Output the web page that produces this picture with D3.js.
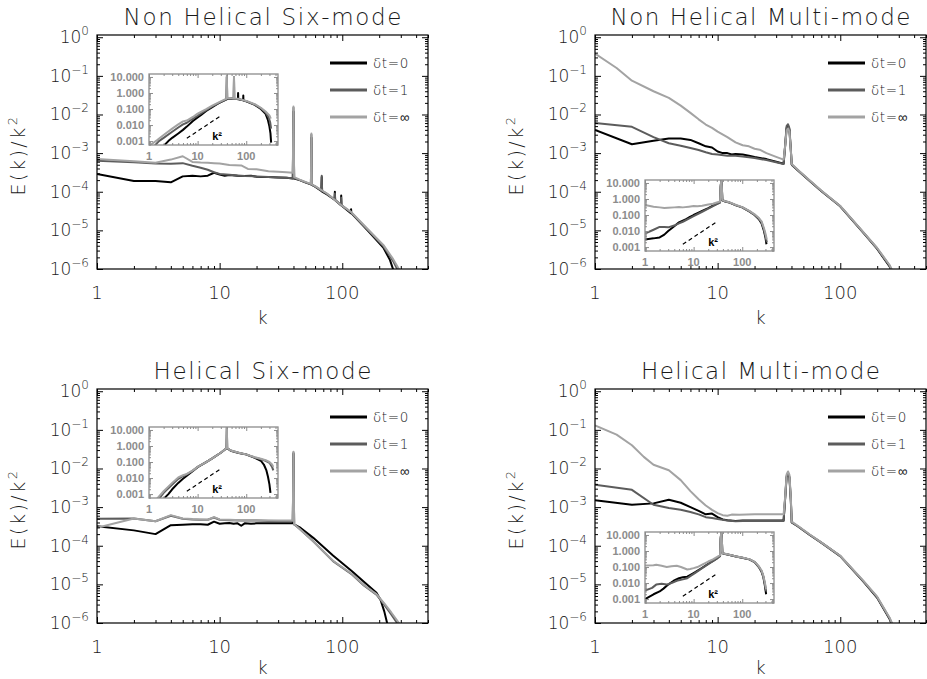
<!DOCTYPE html>
<html><head><meta charset="utf-8">
<script src="https://cdn.jsdelivr.net/npm/d3@7"></script>
<style>body{margin:0;background:#fff}svg{display:block}</style>
</head><body>
<svg id="chart" width="927" height="679"></svg>
<script>
// ---------------- DATA ----------------
const panelTitles = ["Non Helical Six-mode", "Non Helical Multi-mode", "Helical Six-mode", "Helical Multi-mode"];
const seriesLabels = ["δt=0", "δt=1", "δt=∞"];
const xTickValues = [1, 10, 100];
const xTickLabels = ["1", "10", "100"];
const yTickExponents = [0, -1, -2, -3, -4, -5, -6];
const insetYTickValues = [10, 1, 0.1, 0.01, 0.001];
const insetYTickLabels = ["10.000", "1.000", "0.100", "0.010", "0.001"];
const insetXTickValues = [1, 10, 100];
const insetXTickLabels = ["1", "10", "100"];
const refLineK = [6, 28];
const refLineE = [0.0015, 0.033];
const refLabel = "k²";

// Non Helical Six-mode: E(k)/k^2
const nhSix_dt0 = [[1,2.9e-4],[2,1.9e-4],[3,1.9e-4],[4,1.75e-4],[5,2.5e-4],[6,2.6e-4],[7,2.5e-4],[8,2.6e-4],[9,3.1e-4],[10,2.8e-4],[11,2.6e-4],[12,2.7e-4],[14,2.6e-4],[16,2.55e-4],[18,2.6e-4],[20,2.45e-4],[25,2.4e-4],[30,2.35e-4],[35,2.3e-4],[39.5,2.2e-4],[40,1.2e-2],[40.5,2.2e-4],[45,2e-4],[50,1.75e-4],[55.5,1.55e-4],[56,2.5e-3],[56.5,1.5e-4],[60,1.35e-4],[67.5,1.05e-4],[68,2.4e-4],[68.5,1.0e-4],[75,8.5e-5],[86.5,6.2e-5],[87,1e-4],[87.5,6e-5],[97.5,4.5e-5],[98,8e-5],[98.5,4.4e-5],[117.5,2.8e-5],[118,3.5e-5],[118.5,2.8e-5],[158,1.06e-5],[216,3.6e-6],[245,1.7e-6],[262,9e-7],[280,4e-7]];
const nhSix_dt1 = [[1,6.3e-4],[2,5.8e-4],[3,5.4e-4],[4,5.3e-4],[5,5.5e-4],[6,4.7e-4],[7,4.2e-4],[8,3.7e-4],[9,3.2e-4],[10,2.9e-4],[12,2.75e-4],[14,2.65e-4],[16,2.55e-4],[20,2.5e-4],[25,2.4e-4],[30,2.35e-4],[35,2.3e-4],[39.5,2.25e-4],[40,1.5e-2],[40.5,2.25e-4],[45,2e-4],[50,1.75e-4],[55.5,1.55e-4],[56,3e-3],[56.5,1.5e-4],[60,1.38e-4],[67.5,1.08e-4],[68,2.6e-4],[68.5,1.05e-4],[75,8.8e-5],[86.5,6.3e-5],[87,9e-5],[87.5,6.2e-5],[97.5,4.6e-5],[98,7e-5],[98.5,4.5e-5],[118,2.9e-5],[158,1.1e-5],[216,3.9e-6],[260,1.6e-6],[285,9e-7],[305,5e-7]];
const nhSix_dtInf = [[1,7e-4],[2,6.2e-4],[3,5.6e-4],[4,6.8e-4],[5,8.3e-4],[6,5.9e-4],[7,5.7e-4],[8,5.6e-4],[9,5.5e-4],[10,5.4e-4],[12,4.9e-4],[15,4.8e-4],[17,3.9e-4],[20,3.8e-4],[25,3.4e-4],[30,3.3e-4],[35,3.2e-4],[39.5,3.1e-4],[40,1.6e-2],[40.5,2.4e-4],[45,2.05e-4],[50,1.8e-4],[55.5,1.6e-4],[56,3.2e-3],[56.5,1.55e-4],[60,1.4e-4],[75,9e-5],[100,4.3e-5],[118,3e-5],[158,1.15e-5],[216,4.2e-6],[260,1.8e-6],[295,9e-7],[315,5e-7]];

// Non Helical Multi-mode
const nhMulti_dt0 = [[1,4e-3],[2,1.7e-3],[3,2.1e-3],[4,2.4e-3],[5,2.4e-3],[6,2.2e-3],[7,1.8e-3],[8,1.5e-3],[9,1.4e-3],[10,1.1e-3],[11,1.0e-3],[12,1.0e-3],[13,9.2e-4],[14,9.5e-4],[16,9.2e-4],[18,8.6e-4],[20,8e-4],[25,7e-4],[30,6e-4],[34.5,5.3e-4],[35.5,1.5e-3],[36.5,4.5e-3],[37.5,5.2e-3],[38.5,4e-3],[39.5,1.2e-3],[40.2,5e-4],[45,3.6e-4],[56.5,1.9e-4],[70,1.05e-4],[100,4.2e-5],[154,8.7e-6],[200,3.3e-6],[253,1.15e-6],[290,4e-7]];
const nhMulti_dt1 = [[1,6e-3],[2,4.8e-3],[3,2.6e-3],[4,1.8e-3],[5,1.55e-3],[6,1.35e-3],[7,1.2e-3],[8,1.05e-3],[9,9.5e-4],[10,9.2e-4],[12,8.6e-4],[14,8.5e-4],[16,8.2e-4],[18,7.8e-4],[20,7.5e-4],[25,6.6e-4],[30,5.8e-4],[34.5,5.2e-4],[35.5,1.6e-3],[36.5,5e-3],[37.5,5.6e-3],[38.5,4.4e-3],[39.5,1.3e-3],[40.2,5e-4],[45,3.6e-4],[56.5,1.9e-4],[70,1.05e-4],[100,4.2e-5],[154,8.8e-6],[200,3.4e-6],[253,1.2e-6],[295,4e-7]];
const nhMulti_dtInf = [[1,0.38],[1.5,0.16],[2,0.075],[3,0.04],[4,0.027],[5,0.017],[6,0.011],[7,0.0075],[8,0.0055],[9,0.0045],[10,0.0036],[12,0.0026],[14,0.0019],[16,0.0016],[18,0.0015],[20,0.0013],[22,0.00123],[25,0.001],[30,8e-4],[34.5,6.8e-4],[35.5,1.5e-3],[36.5,3.8e-3],[37.5,4.4e-3],[38.5,3.6e-3],[39.5,1.2e-3],[40.2,5.2e-4],[45,3.7e-4],[56.5,1.95e-4],[70,1.08e-4],[100,4.3e-5],[154,9e-6],[200,3.5e-6],[253,1.25e-6],[300,4e-7]];

// Helical Six-mode
const hSix_dt0 = [[1,3.2e-4],[2,2.5e-4],[3,2e-4],[4,3.4e-4],[5,3.5e-4],[6,3.6e-4],[7,3.6e-4],[8,3.5e-4],[9,4.2e-4],[10,3.7e-4],[11,3.8e-4],[12,3.9e-4],[13,3.7e-4],[14,3.8e-4],[15,3.3e-4],[16,3.8e-4],[18,3.7e-4],[20,3.8e-4],[25,3.8e-4],[30,3.8e-4],[35,3.8e-4],[39.5,3.8e-4],[40,2.4e-2],[40.5,3.6e-4],[45,3.0e-4],[58,1.6e-4],[84,5.6e-5],[120,2.2e-5],[150,1.17e-5],[190,6.1e-6],[205,4e-6],[220,2e-6],[232,1e-6],[245,4e-7]];
const hSix_dt1 = [[1,5e-4],[2,5.1e-4],[3,4.3e-4],[4,6e-4],[5,5e-4],[6,4.8e-4],[7,4.7e-4],[8,4.7e-4],[9,5.4e-4],[10,4.7e-4],[12,4.6e-4],[15,4.5e-4],[20,4.5e-4],[25,4.4e-4],[30,4.4e-4],[35,4.4e-4],[39.5,4.3e-4],[40,2.6e-2],[40.5,3.6e-4],[45,2.7e-4],[58,1.3e-4],[84,4e-5],[120,1.8e-5],[150,9.4e-6],[190,5.4e-6],[220,3e-6],[250,1.7e-6],[280,1e-6],[300,6e-7]];
const hSix_dtInf = [[1,2.9e-4],[2,5.1e-4],[3,4.3e-4],[4,6.2e-4],[5,5.1e-4],[6,4.9e-4],[7,4.8e-4],[8,4.7e-4],[9,5.5e-4],[10,4.8e-4],[12,4.7e-4],[15,4.6e-4],[20,4.6e-4],[30,4.5e-4],[39.5,4.5e-4],[40,2.7e-2],[40.5,3.6e-4],[45,2.7e-4],[58,1.3e-4],[84,4.1e-5],[120,1.85e-5],[150,9.6e-6],[190,5.6e-6],[220,3.2e-6],[250,1.9e-6],[290,1e-6],[310,6e-7]];

// Helical Multi-mode
const hMulti_dt0 = [[1,1.5e-3],[2,1.15e-3],[3,1.25e-3],[4,1.55e-3],[5,1.3e-3],[6,1.0e-3],[7,8e-4],[8,6.5e-4],[9,6.8e-4],[10,5.5e-4],[11,4.8e-4],[12,4.6e-4],[14,4.4e-4],[16,4.5e-4],[20,4.5e-4],[25,4.5e-4],[30,4.5e-4],[34.5,4.5e-4],[35.5,1.6e-3],[36.5,6e-3],[37.5,7.2e-3],[38.5,5.8e-3],[39.5,1.5e-3],[40.2,4e-4],[45,3.2e-4],[56.5,1.9e-4],[70,1.2e-4],[100,5.4e-5],[154,1.2e-5],[200,4.5e-6],[253,1.25e-6],[290,4e-7]];
const hMulti_dt1 = [[1,3.8e-3],[2,2.8e-3],[3,1.15e-3],[4,9.5e-4],[5,8.5e-4],[6,7.5e-4],[7,6.5e-4],[8,5.5e-4],[9,5.2e-4],[10,4.9e-4],[12,4.5e-4],[14,4.3e-4],[16,4.4e-4],[20,4.4e-4],[25,4.4e-4],[30,4.4e-4],[34.5,4.4e-4],[35.5,1.7e-3],[36.5,6.4e-3],[37.5,7.6e-3],[38.5,6.2e-3],[39.5,1.6e-3],[40.2,4e-4],[45,3.2e-4],[56.5,1.9e-4],[70,1.2e-4],[100,5.4e-5],[154,1.2e-5],[200,4.6e-6],[253,1.3e-6],[295,4e-7]];
const hMulti_dtInf = [[1,0.13],[1.5,0.075],[2,0.04],[2.5,0.02],[3,0.0125],[4,0.009],[5,0.005],[6,0.0026],[7,0.0016],[8,0.0011],[9,8.5e-4],[10,7e-4],[11,6.2e-4],[12,6e-4],[13,6.4e-4],[15,6.3e-4],[20,6.5e-4],[25,6.5e-4],[30,6.5e-4],[34.5,6.5e-4],[35.5,1.8e-3],[36.5,7e-3],[37.5,8.4e-3],[38.5,6.8e-3],[39.5,1.8e-3],[40.2,4.2e-4],[45,3.3e-4],[56.5,1.95e-4],[70,1.22e-4],[100,5.5e-5],[154,1.25e-5],[200,4.8e-6],[253,1.35e-6],[300,4e-7]];

// Inset spectra E(k)
const nhSixInset_dt0 = [[2,5e-4],[2.5,1e-3],[3,1.6e-3],[4,3e-3],[5,5e-3],[6,8e-3],[8,0.018],[10,0.03],[12,0.045],[15,0.075],[20,0.13],[25,0.2],[30,0.27],[35,0.34],[39.5,0.4],[40,10],[40.5,0.42],[45,0.45],[55.5,0.43],[56,8],[56.5,0.43],[67.5,0.42],[68,1.0],[68.5,0.4],[86.5,0.35],[87,0.7],[87.5,0.34],[100,0.3],[150,0.18],[200,0.1],[250,0.05],[280,0.02],[300,0.008],[315,0.003],[325,8e-4]];
const nhSixInset_dt1 = [[1.3,5e-4],[1.6,1e-3],[2,1.6e-3],[3,3.8e-3],[4,7e-3],[5,0.011],[6,0.014],[8,0.025],[10,0.038],[15,0.085],[20,0.145],[30,0.28],[39.5,0.42],[40,12],[40.5,0.45],[45,0.47],[55.5,0.44],[56,10],[56.5,0.44],[70,0.42],[100,0.31],[150,0.19],[200,0.11],[250,0.06],[290,0.03],[310,0.015],[325,0.006]];
const nhSixInset_dtInf = [[1,5e-4],[1.5,1.2e-3],[2,2.4e-3],[3,6e-3],[4,0.011],[5,0.017],[6,0.019],[8,0.032],[10,0.052],[15,0.1],[20,0.165],[30,0.3],[39.5,0.45],[40,12],[40.5,0.47],[45,0.48],[55.5,0.45],[56,10],[56.5,0.45],[70,0.43],[100,0.32],[150,0.2],[200,0.12],[250,0.07],[300,0.04],[320,0.025]];

const nhMultiInset_dt0 = [[1,0.003],[1.5,0.0035],[2,0.004],[2.5,0.006],[3,0.01],[4,0.02],[5,0.035],[6,0.045],[7,0.055],[8,0.07],[10,0.1],[12,0.13],[15,0.18],[20,0.27],[25,0.38],[30,0.5],[35,0.62],[36,6],[37,14],[38,6],[39,0.85],[40.2,0.8],[45,0.7],[55,0.6],[75,0.4],[100,0.3],[140,0.17],[180,0.1],[220,0.055],[250,0.03],[280,0.01],[300,0.004],[315,0.0015]];
const nhMultiInset_dt1 = [[1,0.007],[1.5,0.012],[2,0.018],[2.5,0.018],[3,0.017],[4,0.022],[5,0.03],[6,0.038],[8,0.06],[10,0.085],[15,0.16],[20,0.25],[30,0.48],[35,0.6],[36,6],[37,14],[38,6],[39,0.85],[40.2,0.8],[45,0.7],[55,0.6],[75,0.4],[100,0.3],[140,0.17],[180,0.1],[220,0.06],[250,0.035],[280,0.012],[300,0.005],[320,0.002]];
const nhMultiInset_dtInf = [[1,0.42],[1.5,0.33],[2,0.3],[2.5,0.27],[3,0.28],[4,0.3],[5,0.32],[6,0.3],[8,0.33],[10,0.36],[12,0.35],[15,0.38],[20,0.45],[25,0.5],[30,0.6],[35,0.7],[36,6],[37,14],[38,6],[39,0.9],[40.2,0.82],[45,0.72],[55,0.62],[75,0.42],[100,0.31],[140,0.18],[180,0.11],[220,0.065],[250,0.04],[280,0.015],[300,0.007],[320,0.003]];

const hSixInset_dt0 = [[2,5e-4],[2.5,1e-3],[3,2e-3],[4,5e-3],[5,0.009],[6,0.014],[8,0.028],[10,0.048],[15,0.1],[20,0.17],[30,0.38],[39.5,0.72],[40,14],[40.5,0.72],[45,0.58],[50,0.48],[70,0.37],[100,0.3],[150,0.18],[200,0.12],[230,0.07],[260,0.03],[280,0.012],[300,0.004],[315,0.0012]];
const hSixInset_dt1 = [[1.6,5e-4],[2,1.2e-3],[3,4e-3],[4,0.009],[5,0.013],[6,0.017],[8,0.029],[10,0.049],[15,0.1],[20,0.17],[30,0.38],[39.5,0.74],[40,15],[40.5,0.74],[45,0.6],[50,0.5],[70,0.38],[100,0.29],[150,0.19],[200,0.15],[250,0.12],[300,0.09],[340,0.05],[360,0.03]];
const hSixInset_dtInf = [[1.45,5e-4],[2,1.5e-3],[3,5e-3],[4,0.011],[5,0.015],[6,0.018],[8,0.03],[10,0.05],[15,0.1],[20,0.17],[30,0.38],[39.5,0.75],[40,15],[40.5,0.75],[45,0.6],[50,0.5],[70,0.38],[100,0.3],[150,0.2],[200,0.16],[250,0.13],[300,0.1],[340,0.07],[360,0.05]];

const hMultiInset_dt0 = [[1,0.001],[1.5,0.002],[2,0.003],[2.4,0.0045],[3,0.008],[3.9,0.014],[5,0.02],[6,0.023],[7.4,0.025],[9,0.035],[11,0.05],[15,0.09],[20,0.16],[25,0.24],[30,0.35],[35,0.5],[36,6],[37,14],[38,6],[39,0.8],[40.2,0.7],[50,0.6],[75,0.45],[100,0.38],[140,0.3],[180,0.2],[220,0.1],[250,0.05],[270,0.025],[290,0.008],[310,0.002]];
const hMultiInset_dt1 = [[1,0.0034],[1.4,0.005],[1.7,0.008],[2.2,0.009],[2.8,0.008],[3.5,0.01],[4.5,0.014],[6,0.017],[7.4,0.02],[9,0.03],[11,0.045],[15,0.085],[20,0.15],[30,0.33],[35,0.48],[36,6],[37,14],[38,6],[39,0.8],[40.2,0.7],[50,0.6],[75,0.45],[100,0.38],[140,0.3],[180,0.2],[220,0.1],[250,0.055],[270,0.028],[290,0.01],[310,0.003]];
const hMultiInset_dtInf = [[1,0.125],[1.5,0.13],[1.7,0.14],[2.2,0.12],[2.8,0.1],[3.5,0.11],[4.5,0.12],[5.5,0.1],[7.4,0.07],[8.5,0.075],[10,0.085],[12,0.1],[15,0.14],[20,0.22],[25,0.3],[30,0.42],[35,0.55],[36,6],[37,14],[38,6],[39,0.8],[40.2,0.72],[50,0.62],[75,0.46],[100,0.39],[140,0.31],[180,0.21],[220,0.11],[250,0.06],[270,0.03],[290,0.012],[310,0.004]];

// ---------------- LAYOUT / STYLE ----------------
const colors = ["#000000", "#5c5c5c", "#a3a3a3"];
const insetGray = "#8c8c8c";
const FONT = "'DejaVu Sans', sans-serif";
const TXT = "#1a1a1a";
const PW = 331, PH = 234;
const panels = [
  {left: 97,  top: 35,  kOff: 55, title: panelTitles[0], titleLen: 278, series: [nhSix_dt0, nhSix_dt1, nhSix_dtInf],       inset: {dx: 52, dy: 39,  series: [nhSixInset_dt0, nhSixInset_dt1, nhSixInset_dtInf]}},
  {left: 595, top: 35,  kOff: 55, title: panelTitles[1], titleLen: 300, series: [nhMulti_dt0, nhMulti_dt1, nhMulti_dtInf], inset: {dx: 50, dy: 145, series: [nhMultiInset_dt0, nhMultiInset_dt1, nhMultiInset_dtInf]}},
  {left: 97,  top: 389, kOff: 51, title: panelTitles[2], titleLen: 218, series: [hSix_dt0, hSix_dt1, hSix_dtInf],          inset: {dx: 52, dy: 38,  series: [hSixInset_dt0, hSixInset_dt1, hSixInset_dtInf]}},
  {left: 595, top: 389, kOff: 51, title: panelTitles[3], titleLen: 239, series: [hMulti_dt0, hMulti_dt1, hMulti_dtInf],    inset: {dx: 50, dy: 143, series: [hMultiInset_dt0, hMultiInset_dt1, hMultiInset_dtInf]}}
];
const IW = 129, IH = 71;

function minorLogTicks(lo, hi) {
  const out = [];
  for (let e = Math.floor(Math.log10(lo)) - 1; e <= Math.ceil(Math.log10(hi)); e++) {
    for (let m = 2; m <= 9; m++) { const v = m * Math.pow(10, e); if (v >= lo * 0.9999 && v <= hi * 1.0001) out.push(v); }
  }
  return out;
}

const svg = d3.select("#chart");
svg.append("rect").attr("width", 927).attr("height", 679).attr("fill", "#fff");

function drawTicks(g, scaleX, scaleY, x0, y0, w, h, xMaj, xMin, yMaj, yMin, majLen, minLen, color) {
  const mk = (axisFn, scale, vals, len, tx, ty) => {
    const a = g.append("g").attr("transform", `translate(${tx},${ty})`)
      .call(axisFn(scale).tickValues(vals).tickSizeInner(-len).tickSizeOuter(0).tickFormat(() => ""));
    a.select(".domain").remove();
    a.selectAll("line").attr("stroke", color).attr("stroke-width", 1);
    a.selectAll("text").remove();
  };
  mk(d3.axisBottom, scaleX, xMaj, majLen, 0, y0 + h);
  mk(d3.axisBottom, scaleX, xMin, minLen, 0, y0 + h);
  mk(d3.axisTop, scaleX, xMaj, majLen, 0, y0);
  mk(d3.axisTop, scaleX, xMin, minLen, 0, y0);
  mk(d3.axisLeft, scaleY, yMaj, majLen, x0, 0);
  mk(d3.axisLeft, scaleY, yMin, minLen, x0, 0);
  mk(d3.axisRight, scaleY, yMaj, majLen, x0 + w, 0);
  mk(d3.axisRight, scaleY, yMin, minLen, x0 + w, 0);
}

panels.forEach((p, pi) => {
  const g = svg.append("g");
  const x = d3.scaleLog().domain([1, 500]).range([p.left, p.left + PW]);
  const y = d3.scaleLog().domain([1e-6, Math.pow(10, 0.058)]).range([p.top + PH, p.top]);

  const clipId = "clip" + pi;
  svg.append("clipPath").attr("id", clipId).append("rect")
    .attr("x", p.left).attr("y", p.top).attr("width", PW).attr("height", PH);

  // curves
  const line = d3.line().x(d => x(d[0])).y(d => y(d[1]));
  const cg = g.append("g").attr("clip-path", `url(#${clipId})`);
  p.series.forEach((s, si) => {
    cg.append("path").datum(s).attr("d", line).attr("fill", "none")
      .attr("stroke", colors[si]).attr("stroke-width", 2).attr("stroke-linejoin", "round");
  });

  // box + ticks
  const yMajVals = yTickExponents.map(e => Math.pow(10, e));
  drawTicks(g, x, y, p.left, p.top, PW, PH, xTickValues, minorLogTicks(1, 500), yMajVals,
    minorLogTicks(1e-6, Math.pow(10, 0.058)), 6, 3, "#000");
  g.append("rect").attr("x", p.left).attr("y", p.top).attr("width", PW).attr("height", PH)
    .attr("fill", "none").attr("stroke", "#000").attr("stroke-width", 1.2);

  // y tick labels
  yTickExponents.forEach(e => {
    const t = g.append("text").attr("x", p.left - 8).attr("y", y(Math.pow(10, e)) + 6)
      .attr("text-anchor", "end").attr("font-family", FONT).attr("font-weight", 200)
      .attr("font-size", 17).attr("fill", TXT);
    t.append("tspan").text("10");
    t.append("tspan").attr("dy", -8).attr("font-size", 12).text(e === 0 ? "0" : "−" + (-e));
  });
  // x tick labels
  xTickValues.forEach((v, i) => {
    g.append("text").attr("x", x(v)).attr("y", p.top + PH + 30).attr("text-anchor", "middle")
      .attr("font-family", FONT).attr("font-weight", 200).attr("font-size", 18).attr("fill", TXT).text(xTickLabels[i]);
  });
  // x axis title
  g.append("text").attr("x", p.left + PW / 2).attr("y", p.top + PH + p.kOff).attr("text-anchor", "middle")
    .attr("font-family", FONT).attr("font-weight", 200).attr("font-size", 18).attr("fill", TXT).text("k");
  // y axis title
  const yt = g.append("text").attr("transform", `translate(${p.left - 72},${p.top + 120}) rotate(-90)`)
    .attr("text-anchor", "middle").attr("font-family", FONT).attr("font-weight", 200)
    .attr("font-size", 19).attr("letter-spacing", 2.5).attr("fill", TXT);
  yt.append("tspan").text("E(k)/k");
  yt.append("tspan").attr("dy", -8).attr("font-size", 13).text("2");
  // title
  g.append("text").attr("x", p.left + PW / 2).attr("y", p.top - 10).attr("text-anchor", "middle")
    .attr("font-family", FONT).attr("font-weight", 200).attr("font-size", 23).attr("fill", TXT)
    .attr("textLength", p.titleLen).attr("lengthAdjust", "spacing").text(p.title);

  // legend
  seriesLabels.forEach((lab, si) => {
    const ly = p.top + 28 + si * 27;
    g.append("line").attr("x1", p.left + 233).attr("x2", p.left + 270).attr("y1", ly).attr("y2", ly)
      .attr("stroke", colors[si]).attr("stroke-width", 3);
    g.append("text").attr("x", p.left + 276).attr("y", ly + 5).attr("font-family", FONT).attr("font-weight", 200)
      .attr("font-size", 13.5).attr("letter-spacing", 0.6).attr("fill", TXT).text(lab);
  });

  // inset
  const ix0 = p.left + p.inset.dx, iy0 = p.top + p.inset.dy;
  const ix = d3.scaleLog().domain([1, 450]).range([ix0, ix0 + IW]);
  const iy = d3.scaleLog().domain([5.7e-4, 15.3]).range([iy0 + IH, iy0]);
  const ig = g.append("g");
  ig.append("rect").attr("x", ix0).attr("y", iy0).attr("width", IW).attr("height", IH).attr("fill", "#fff");
  const iclip = "iclip" + pi;
  svg.append("clipPath").attr("id", iclip).append("rect")
    .attr("x", ix0).attr("y", iy0).attr("width", IW).attr("height", IH);
  const iline = d3.line().x(d => ix(d[0])).y(d => iy(d[1]));
  const icg = ig.append("g").attr("clip-path", `url(#${iclip})`);
  p.inset.series.forEach((s, si) => {
    icg.append("path").datum(s).attr("d", iline).attr("fill", "none")
      .attr("stroke", colors[si]).attr("stroke-width", 2).attr("stroke-linejoin", "round");
  });
  // reference k^2 line
  icg.append("path").datum(refLineK.map((k, i) => [k, refLineE[i]])).attr("d", iline)
    .attr("fill", "none").attr("stroke", "#000").attr("stroke-width", 1.2).attr("stroke-dasharray", "4,3");
  ig.append("text").attr("x", ix(20)).attr("y", iy(0.0011)).attr("font-family", "'Liberation Sans', Arial, sans-serif")
    .attr("font-weight", "bold").attr("font-size", 11).attr("fill", "#000").text(refLabel);
  drawTicks(ig, ix, iy, ix0, iy0, IW, IH, insetXTickValues, minorLogTicks(1, 450), insetYTickValues,
    minorLogTicks(5.7e-4, 15.3), 4, 2, insetGray);
  ig.append("rect").attr("x", ix0).attr("y", iy0).attr("width", IW).attr("height", IH)
    .attr("fill", "none").attr("stroke", insetGray).attr("stroke-width", 1.3);
  insetYTickValues.forEach((v, i) => {
    ig.append("text").attr("x", ix0 - 5).attr("y", iy(v) + 4).attr("text-anchor", "end")
      .attr("font-family", "'Liberation Sans', Arial, sans-serif").attr("font-weight", "bold")
      .attr("font-size", 11).attr("fill", insetGray).text(insetYTickLabels[i]);
  });
  insetXTickValues.forEach((v, i) => {
    ig.append("text").attr("x", ix(v)).attr("y", iy0 + IH + 14.5).attr("text-anchor", "middle")
      .attr("font-family", "'Liberation Sans', Arial, sans-serif").attr("font-weight", "bold")
      .attr("font-size", 11).attr("fill", insetGray).text(insetXTickLabels[i]);
  });
});
</script>
</body></html>
